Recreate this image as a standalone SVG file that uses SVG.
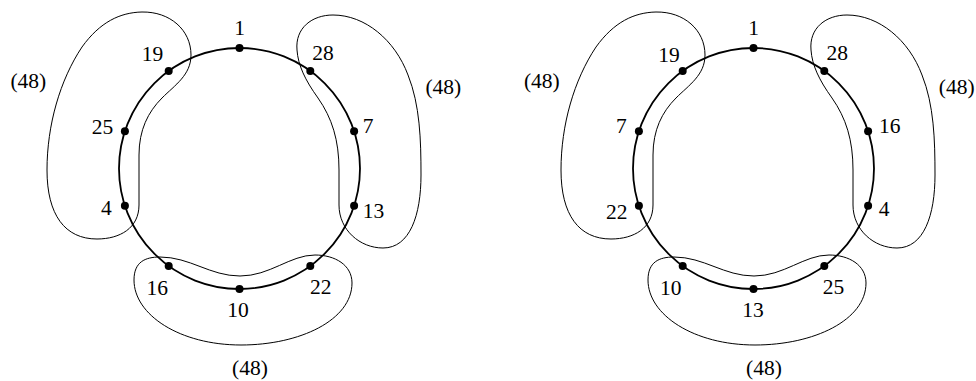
<svg xmlns="http://www.w3.org/2000/svg" width="976" height="381" viewBox="0 0 976 381">
<style>
.ring{fill:none;stroke:#000;stroke-width:1.8}
.blob{fill:none;stroke:#000;stroke-width:1}
.dot{fill:#000}
text{font-family:"Liberation Serif","Times New Roman",serif;font-size:21.5px;fill:#000;text-anchor:middle}
</style>
<defs>
<g id="diagram">
<circle class="ring" cx="239.5" cy="168.5" r="120.5"/>
<path class="blob" d="M142,12 C170,11.5 191,30 191,55 C191,75 175,85 162,98 C148,112 139,130 139,155 L139,205 C139,228 120,239 97,239 C65,239 47,215 47,170 C47,125 60,80 82,47 C100,22 120,12.5 142,12 Z"/>
<path class="blob" d="M297,50 C295,28 312,15 333,15 C365,15 395,40 408,75 C420,105 421,140 421,175 C421,215 410,248 383,248 C360,248 339,230 339,205 L339,170 C339,140 332,118 318,98 C305,80 298,65 297,50 Z"/>
<path class="blob" d="M134,280 C134,262 145,257 160,257 C190,257 210,276 240,276 C270,276 290,255 315,255 C335,255 352,265 352,283 C352,320 300,345 241,345 C180,345 134,315 134,280 Z"/>
<circle class="dot" cx="239.5" cy="48" r="4"/>
<circle class="dot" cx="310.3" cy="71" r="4"/>
<circle class="dot" cx="354.1" cy="131.3" r="4"/>
<circle class="dot" cx="354.1" cy="205.7" r="4"/>
<circle class="dot" cx="310.3" cy="266" r="4"/>
<circle class="dot" cx="239.5" cy="289" r="4"/>
<circle class="dot" cx="168.7" cy="266" r="4"/>
<circle class="dot" cx="124.9" cy="205.7" r="4"/>
<circle class="dot" cx="124.9" cy="131.3" r="4"/>
<circle class="dot" cx="168.7" cy="71" r="4"/>
</g>
</defs>
<g id="connectors"></g>
<g id="left-diagram">
<use href="#diagram"/>
<g id="left-labels">
<text x="239.5" y="35">1</text>
<text x="152.5" y="61">19</text>
<text x="323" y="60">28</text>
<text x="28.3" y="88">(48)</text>
<text x="443.3" y="94">(48)</text>
<text x="102.5" y="134">25</text>
<text x="368" y="133">7</text>
<text x="106.3" y="215">4</text>
<text x="373.5" y="218">13</text>
<text x="157.2" y="295">16</text>
<text x="320.8" y="294">22</text>
<text x="238" y="317">10</text>
<text x="250" y="375">(48)</text>
</g>
</g>
<g id="right-diagram">
<use href="#diagram" transform="translate(514,0)"/>
<g id="right-labels">
<text x="753.5" y="35">1</text>
<text x="669" y="62">19</text>
<text x="837.2" y="60">28</text>
<text x="541.8" y="87.5">(48)</text>
<text x="956.7" y="94">(48)</text>
<text x="621.3" y="133">7</text>
<text x="889.7" y="133">16</text>
<text x="616.8" y="219">22</text>
<text x="884.2" y="216">4</text>
<text x="670.7" y="295">10</text>
<text x="833.5" y="293.5">25</text>
<text x="753" y="317">13</text>
<text x="764" y="375">(48)</text>
</g>
</g>
</svg>
